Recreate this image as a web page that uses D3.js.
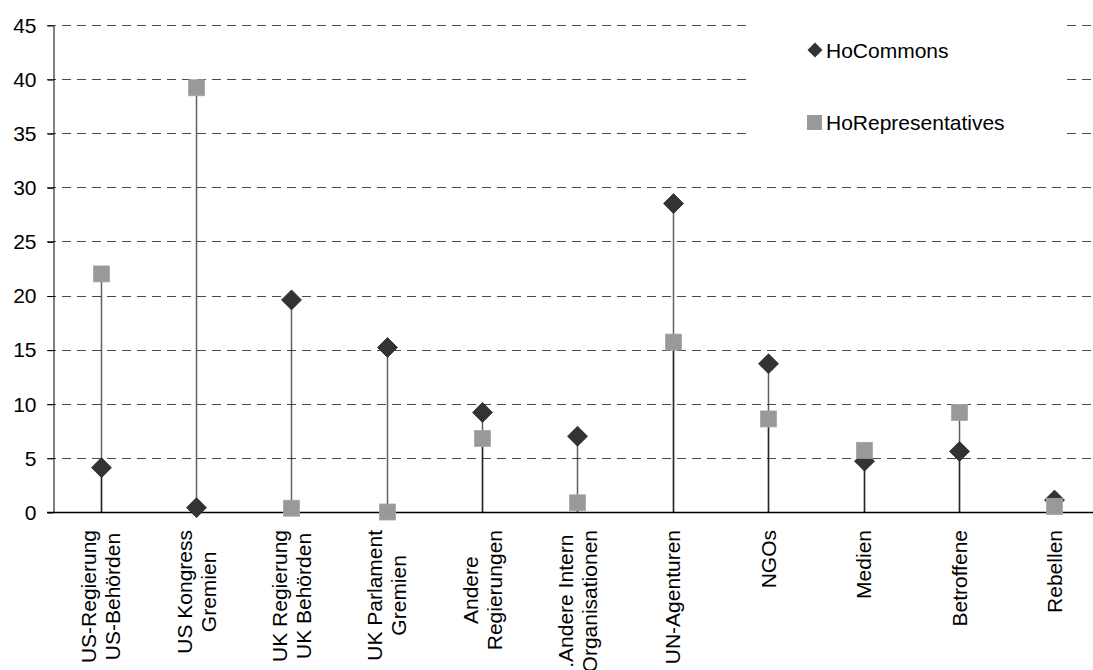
<!DOCTYPE html>
<html>
<head>
<meta charset="utf-8">
<script src="https://cdn.jsdelivr.net/npm/d3@7"></script>
<style>
  html, body { margin: 0; padding: 0; background: #fff; overflow: hidden; }
  svg { display: block; font-family: "Liberation Sans", Arial, sans-serif; }
</style>
</head>
<body>
<svg id="chart" width="1093" height="670"></svg>
<script>
// Actor groups (each entry is one category; multi-line labels split with "\n")
const categories = [
  "US-Regierung\nUS-Behörden",
  "US Kongress\nGremien",
  "UK Regierung\nUK Behörden",
  "UK Parlament\nGremien",
  "Andere\nRegierungen",
  ".Andere Intern\nOrganisationen",
  "UN-Agenturen",
  "NGOs",
  "Medien",
  "Betroffene",
  "Rebellen"
];

// Share of mentions per chamber (percent)
const hoCommons         = [4.1, 0.4, 19.6, 15.2, 9.2, 7.0, 28.5, 13.7, 4.7, 5.6, 1.1];
const hoRepresentatives = [22.0, 39.2, 0.35, 0.0, 6.8, 0.85, 15.7, 8.6, 5.7, 9.2, 0.5];

const yTicks = [0, 5, 10, 15, 20, 25, 30, 35, 40, 45];
const seriesNames = ["HoCommons", "HoRepresentatives"];

const svg = d3.select("#chart");

const x = d3.scaleBand().domain(categories).range([53, 1102]).padding(0);
const y = d3.scaleLinear().domain([0, 45]).range([512, 25]);
const cx = c => x(c) + x.bandwidth() / 2;

// Dashed horizontal gridlines
svg.append("g")
  .selectAll("line")
  .data(yTicks.filter(v => v > 0))
  .join("line")
  .attr("x1", 47).attr("x2", 1102)
  .attr("y1", d => Math.round(y(d)) + 0.5)
  .attr("y2", d => Math.round(y(d)) + 0.5)
  .attr("stroke", "#4a4a4a")
  .attr("stroke-width", 1.2)
  .attr("stroke-dasharray", "9,6");

// Legend background masks the gridlines behind it
svg.append("rect")
  .attr("x", 752).attr("y", 18)
  .attr("width", 312).attr("height", 132)
  .attr("fill", "#fff");

// Y axis
const yAxis = svg.append("g")
  .attr("transform", "translate(53.5,0.5)")
  .call(d3.axisLeft(y).tickValues(yTicks).tickSize(6).tickPadding(11).tickSizeOuter(0));
yAxis.select(".domain").attr("stroke", "#000");
yAxis.selectAll(".tick line").attr("stroke", "#000");
yAxis.selectAll(".tick text")
  .attr("font-size", 21)
  .attr("fill", "#000")
  .attr("font-family", "'Liberation Sans', Arial, sans-serif");

// X axis baseline
svg.append("line")
  .attr("x1", 47).attr("x2", 1102)
  .attr("y1", Math.round(y(0)) + 0.5).attr("y2", Math.round(y(0)) + 0.5)
  .attr("stroke", "#000").attr("stroke-width", 1.3);

// Drop lines from every point down to the category axis
const points = [];
categories.forEach((c, i) => {
  points.push({ c, v: hoCommons[i], s: 0 });
  points.push({ c, v: hoRepresentatives[i], s: 1 });
});
svg.append("g")
  .selectAll("line")
  .data(points)
  .join("line")
  .attr("x1", d => Math.round(cx(d.c)) + 0.5)
  .attr("x2", d => Math.round(cx(d.c)) + 0.5)
  .attr("y1", d => y(d.v))
  .attr("y2", y(0))
  .attr("stroke", "#000")
  .attr("stroke-width", 1.5)
  .attr("stroke-opacity", 0.62);

// HoCommons: dark diamonds
const diamond = (px, py, r) => `M${px},${py - r}L${px + r},${py}L${px},${py + r}L${px - r},${py}Z`;
svg.append("g")
  .selectAll("path")
  .data(categories)
  .join("path")
  .attr("d", (c, i) => diamond(Math.round(cx(c)) + 0.5, y(hoCommons[i]), 10))
  .attr("fill", "#333")
  .attr("stroke", "#2a2a2a")
  .attr("stroke-width", 0.8);

// HoRepresentatives: grey squares
svg.append("g")
  .selectAll("rect")
  .data(categories)
  .join("rect")
  .attr("x", c => Math.round(cx(c)) + 0.5 - 8)
  .attr("y", (c, i) => y(hoRepresentatives[i]) - 8)
  .attr("width", 16).attr("height", 16)
  .attr("fill", "#999")
  .attr("stroke", "#a6a6a6")
  .attr("stroke-width", 0.8);

// Category labels, rotated, lines centred within the label block
const labelTop = 530;
const lineGap = 24;
const labels = svg.append("g");
categories.forEach(c => {
  const lines = c.split("\n");
  const g = labels.append("g");
  const texts = lines.map((ln, k) =>
    g.append("text")
      .attr("text-anchor", "middle")
      .attr("font-size", 21)
      .attr("fill", "#000")
      .attr("y", (k - (lines.length - 1) / 2) * lineGap)
      .attr("dy", "0.36em")
      .text(ln)
  );
  const maxLen = d3.max(texts, t => t.node().getComputedTextLength());
  g.attr("transform", `translate(${cx(c)},${labelTop + maxLen / 2}) rotate(-90)`);
});

// Legend
const legend = svg.append("g");
legend.append("path")
  .attr("d", diamond(815, 50, 7.5))
  .attr("fill", "#333");
legend.append("rect")
  .attr("x", 807).attr("y", 115)
  .attr("width", 15).attr("height", 15)
  .attr("fill", "#999");
legend.selectAll("text")
  .data(seriesNames)
  .join("text")
  .attr("x", 826)
  .attr("y", (d, i) => i === 0 ? 50 : 122.5)
  .attr("dy", "0.36em")
  .attr("font-size", 21)
  .attr("fill", "#000")
  .text(d => d);
</script>
</body>
</html>
